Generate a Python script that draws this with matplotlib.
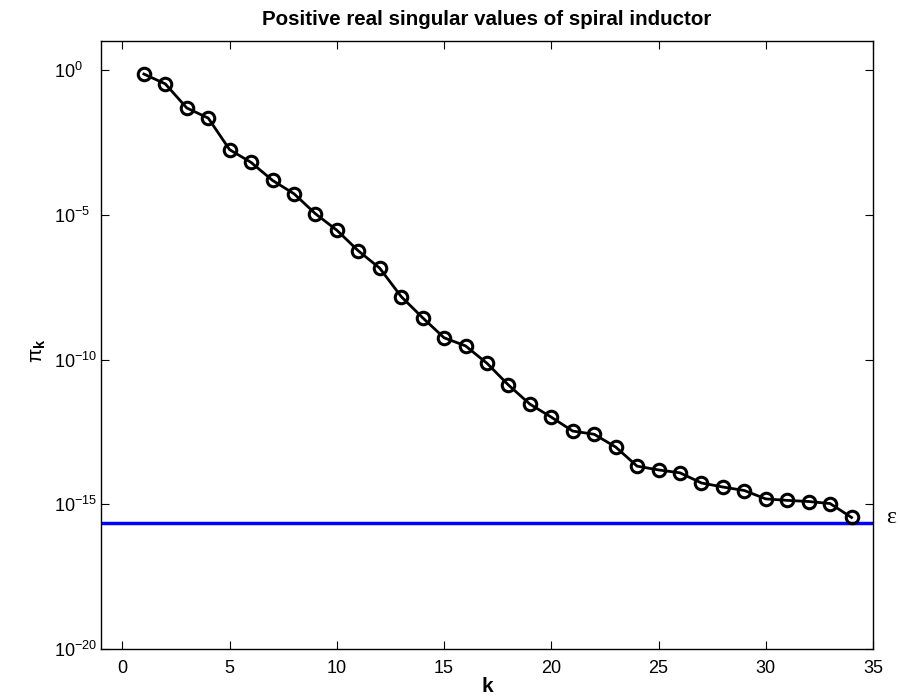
import numpy as np
import matplotlib
matplotlib.use("Agg")
import matplotlib.pyplot as plt
from matplotlib.ticker import FixedLocator, NullLocator

plt.rcParams['font.family'] = ['Liberation Sans', 'DejaVu Sans']
plt.rcParams['mathtext.fontset'] = 'custom'
plt.rcParams['mathtext.rm'] = 'Liberation Sans'
plt.rcParams['mathtext.it'] = 'Liberation Sans:italic'
plt.rcParams['mathtext.bf'] = 'Liberation Sans:bold'

k = np.arange(1, 35)
log_pi = [-0.15, -0.49, -1.32, -1.67, -2.76, -3.20, -3.82, -4.28, -4.97, -5.54,
          -6.25, -6.85, -7.83, -8.56, -9.25, -9.53, -10.13, -10.88, -11.54, -11.99,
          -12.47, -12.58, -13.02, -13.68, -13.81, -13.91, -14.26, -14.40, -14.52, -14.81,
          -14.86, -14.90, -14.97, -15.45]
pi_k = 10.0 ** np.array(log_pi)
eps = 2.220446049250313e-16

xticks = [0, 5, 10, 15, 20, 25, 30, 35]
yticks = [1e-20, 1e-15, 1e-10, 1e-5, 1e0]

fig = plt.figure(figsize=(9, 6.97), dpi=100)
ax = fig.add_axes([0.1122, 0.0684, 0.8578, 0.8732])

ax.axhline(eps, color='#0000ff', lw=2.5, zorder=2)
ax.plot(k, pi_k, color='black', lw=2.0, marker='o', markersize=9,
        markerfacecolor='none', markeredgewidth=2.2, zorder=3)

ax.set_yscale('log')
ax.set_xlim(-1, 35)
ax.set_ylim(1e-20, 1e1)
ax.xaxis.set_major_locator(FixedLocator(xticks))
ax.yaxis.set_major_locator(FixedLocator(yticks))
ax.yaxis.set_minor_locator(NullLocator())
ax.tick_params(direction='in', top=True, right=True, length=6, width=0.8,
               labelsize=13)
ax.tick_params(axis='x', pad=8)
ax.tick_params(axis='y', pad=34)
for t in ax.yaxis.get_major_ticks():
    t.label1.set_horizontalalignment('left')
for s in ax.spines.values():
    s.set_linewidth(1.0)

ax.set_title('Positive real singular values of spiral inductor',
             fontsize=14.8, fontweight='bold', pad=11)
ax.set_xlabel('k', fontsize=15, fontweight='bold', labelpad=0)
ax.set_ylabel(r'$\mathrm{π}_{\mathbf{k}}$', fontsize=15)
ax.yaxis.set_label_coords(-0.068, 0.49)

ax.text(35.6, eps * 1.6, 'ε', fontsize=17, family=['Liberation Serif', 'DejaVu Serif'],
        ha='left', va='center', clip_on=False)

fig.savefig('out.png', dpi=100)
